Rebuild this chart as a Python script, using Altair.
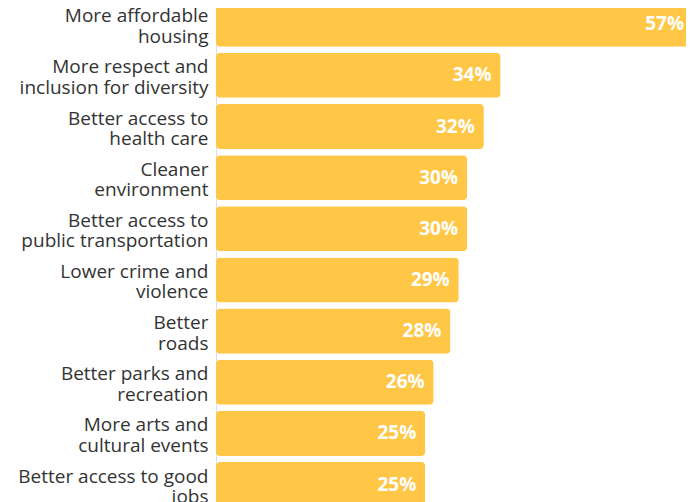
import altair as alt
import pandas as pd

categories = [
    "More affordable|housing",
    "More respect and|inclusion for diversity",
    "Better access to|health care",
    "Cleaner\u00a0|environment",
    "Better access to|public transportation",
    "Lower crime and|violence",
    "Better\u00a0|roads",
    "Better parks and|recreation",
    "More arts and|cultural events",
    "Better access to good|jobs",
]
values = [57, 34, 32, 30, 30, 29, 28, 26, 25, 25]
value_labels = [f"{v}%" for v in values]

df = pd.DataFrame({"cat": categories, "val": values, "lbl": value_labels})

y = alt.Y(
    "cat:N",
    sort=categories,
    scale=alt.Scale(domain=categories, range=[-6.3, 499.1], paddingInner=0.12, paddingOuter=0),
    axis=alt.Axis(
        title=None,
        labelExpr="split(datum.value, '|')",
        labelFont="Open Sans",
        labelFontSize=19,
        labelColor="#333333",
        labelLineHeight=20.5,
        labelOffset=-8,
        labelPadding=8,
        labelLimit=400,
        ticks=False,
        domain=False,
        grid=False,
    ),
)
x = alt.X("val:Q", scale=alt.Scale(domain=[0, 56.15], nice=False, zero=True, clamp=False), axis=None)

bars = alt.Chart(df).mark_bar(cornerRadius=4, color="#FFC745", clip=False).encode(x=x, y=y)
text = alt.Chart(df).mark_text(
    align="right", baseline="middle", dx=-9, color="white",
    fontWeight="bold", fontSize=19, font="Open Sans"
).encode(x=x, y=y, text="lbl:N")

chart = alt.layer(bars, text).properties(
    width=470,
    height=494,
    autosize=alt.AutoSizeParams(type="none"),
    padding={"left": 208, "top": 0, "right": 0, "bottom": 0},
).configure_view(stroke=None).configure(background="white")

chart.save("out.html", embed_options={"renderer": "svg", "actions": False})
